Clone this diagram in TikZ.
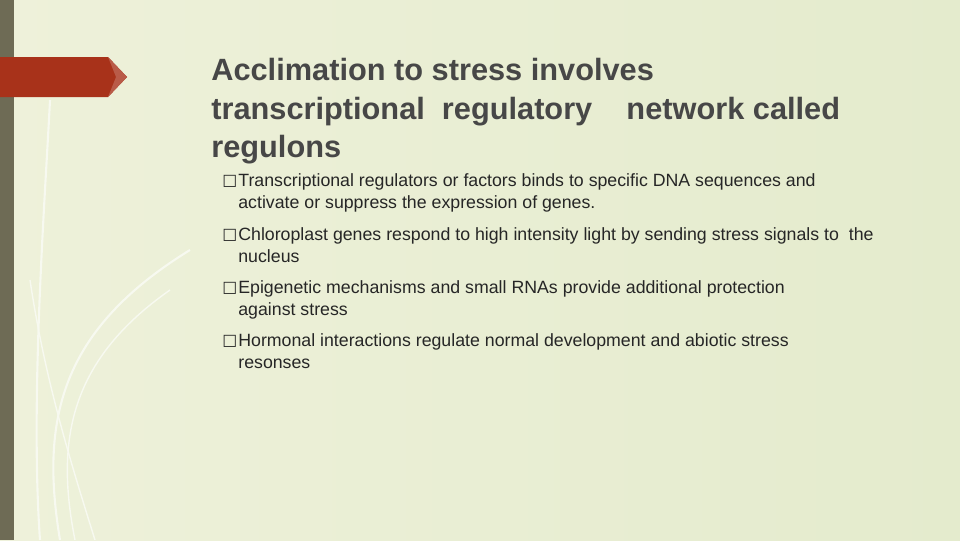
\documentclass[tikz,border=0pt]{standalone}
\usepackage{fontspec}
\setmainfont{Liberation Sans}
\newfontfamily\symfont{DejaVu Sans}
\definecolor{slidebg}{HTML}{E4EBCD}
\definecolor{slidebgl}{HTML}{EEF1DA}
\definecolor{sidebar}{HTML}{6E6B55}
\definecolor{flagred}{HTML}{A8321A}
\definecolor{textgrey}{HTML}{262626}
\tikzset{
    x=0.02cm, y=-0.02cm,
    title/.style={anchor=north west, align=left, font=\fontsize{17.5}{22}\selectfont\bfseries, text=textgrey!85!white, inner sep=0pt},
    bullet/.style={anchor=north west, align=left, font=\fontsize{10.1}{12.5}\selectfont, text=textgrey, inner sep=0pt},
    mark box/.style={anchor=north west, font=\symfont\fontsize{9}{12}\selectfont, text=textgrey, inner sep=0pt},
    stem/.style={white!70!slidebg, line width=1.2pt},
}
\begin{document}
\begin{tikzpicture}
    \shade[left color=slidebgl, right color=slidebg] (0,0) rectangle (960,540);
    \fill[sidebar] (0,0) rectangle (14,540);
    % decorative stems
    \draw[stem] (40,540) .. controls (30,400) and (45,200) .. (50,100);
    \draw[stem] (60,540) .. controls (40,420) and (60,330) .. (190,250);
    \draw[stem, line width=0.8pt] (75,540) .. controls (55,440) and (70,360) .. (170,290);
    \draw[stem, line width=0.8pt] (95,540) .. controls (70,460) and (45,380) .. (30,280);
    % flag
    \fill[flagred] (0,57) -- (108,57) -- (127,77) -- (108,97) -- (0,97) -- cycle;
    \fill[flagred!80!white] (108,57) -- (127,77) -- (108,97) -- (116,77) -- cycle;
    \node[title] (head) at (211,58) {Acclimation to stress involves\\transcriptional\ \ regulatory\ \ \ \ network called\\regulons};
    \foreach \y/\txt [count=\i] in {
        173/{Transcriptional regulators or factors binds to specific DNA sequences and\\activate or suppress the expression of genes.},
        227/{Chloroplast genes respond to high intensity light by sending stress signals to\ \ the\\nucleus},
        280/{Epigenetic mechanisms and small RNAs provide additional protection\\against stress},
        333/{Hormonal interactions regulate normal development and abiotic stress\\resonses}} {
        \node[mark box] (m\i) at (222,\y+2) {□};
        \node[bullet] (b\i) at (238,\y) {\txt};
    }
    \useasboundingbox (0,0) rectangle (960,540);
\end{tikzpicture}
\end{document}
